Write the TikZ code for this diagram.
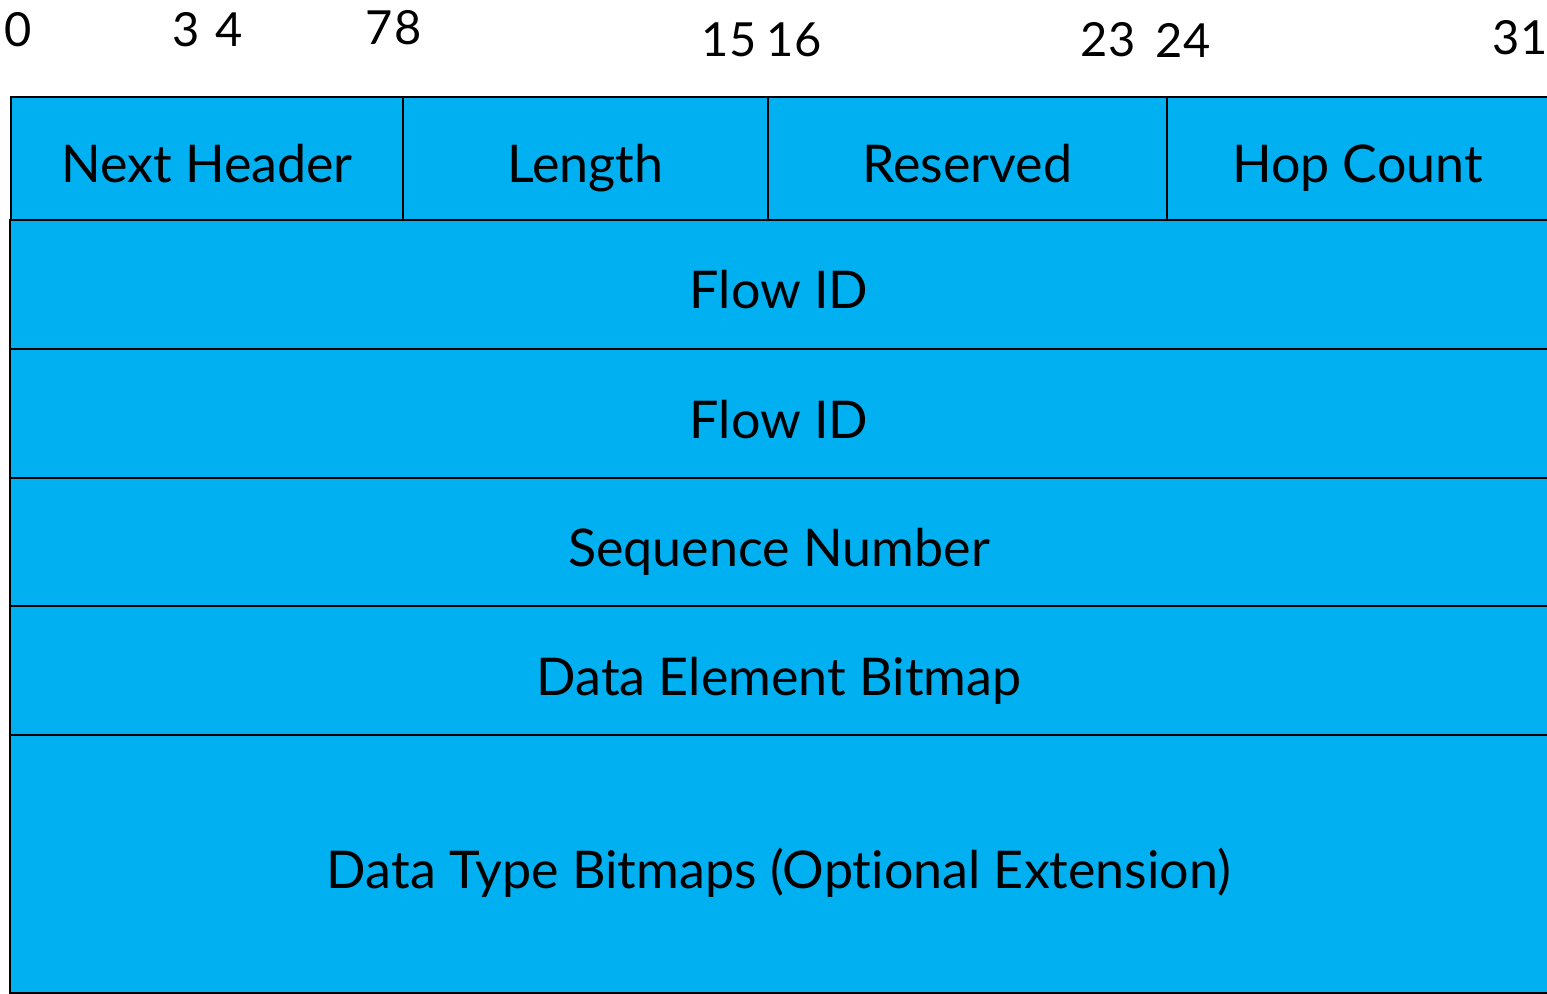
\documentclass[tikz,border=0pt]{standalone}
\usepackage{fontspec}
\setmainfont{Lato}[Ligatures={NoCommon}]
\usetikzlibrary{positioning}
\definecolor{fieldblue}{HTML}{00B0F0}

\begin{document}
\begin{tikzpicture}[x = 0.5pt, y = -0.5pt,
  field/.style = {draw, fill=fieldblue, line width=1pt, anchor=north west,
                  inner sep=0pt, outer sep=0pt, text height=24.5pt, text depth=0pt,
                  font=\fontsize{26}{28}\selectfont},
  bitnum/.style = {inner sep=0pt, font=\fontsize{23.5}{25}\selectfont}]
\clip (0,0) rectangle (1547,994);
\useasboundingbox (0,0) rectangle (1547,994);
% bit positions
\node[bitnum] at (18,30)   (b0)  {0};
\node[bitnum] at (186,30)  (b3)  {3};
\node[bitnum] at (229,30)  (b4)  {4};
\node[bitnum] at (379,28)  (b7)  {7};
\node[bitnum] at (408,28)  (b8)  {8};
\node[bitnum] at (729,40)  (b15) {15};
\node[bitnum] at (794,40)  (b16) {16};
\node[bitnum] at (1108,40) (b23) {23};
\node[bitnum] at (1183,40) (b24) {24};
\node[bitnum] at (1520,38) (b31) {31};
% first word
\node[field, minimum width=196pt, minimum height=61.5pt] at (11,97) (nh) {Next Header};
\node[field, minimum width=182.5pt, minimum height=61.5pt, right=0pt of nh] (len) {Length};
\node[field, minimum width=199.5pt, minimum height=61.5pt, right=0pt of len] (res) {Reserved};
\node[field, minimum width=190.5pt, minimum height=61.5pt, right=0pt of res] (hop) {Hop Count};
% following words
\node[field, minimum width=769pt, minimum height=64.5pt] at (10,220) (fid1) {Flow ID};
\node[field, minimum width=769pt, minimum height=64.5pt, below=0pt of fid1] (fid2) {Flow ID};
\node[field, minimum width=769pt, minimum height=64pt, below=0pt of fid2] (seq) {Sequence Number};
\node[field, minimum width=769pt, minimum height=64.5pt, below=0pt of seq] (deb) {Data Element Bitmap};
\node[field, minimum width=769pt, minimum height=129pt, below=0pt of deb] (dtb) {Data Type Bitmaps (Optional Extension)};
\end{tikzpicture}
\end{document}
